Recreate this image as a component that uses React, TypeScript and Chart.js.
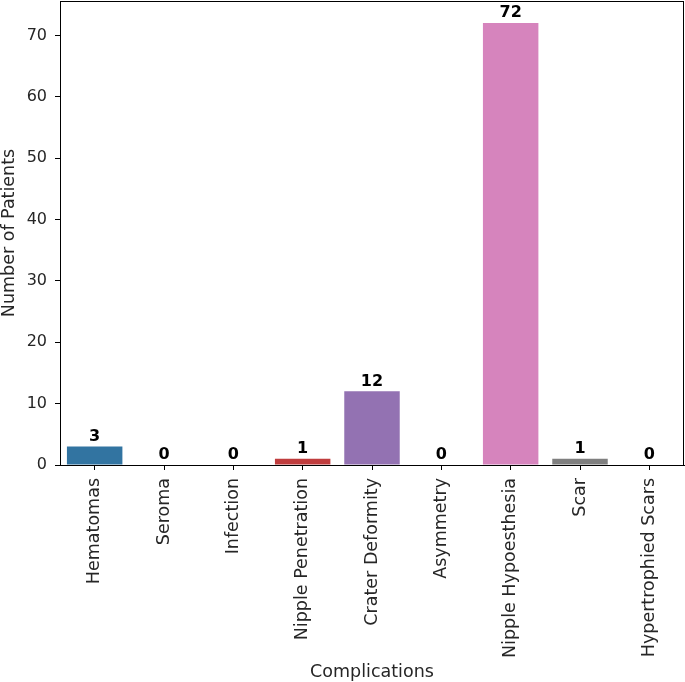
import React, { useEffect, useRef } from "react";
import { Chart, registerables } from "chart.js";

Chart.register(...registerables);

const categories = [
  "Hematomas",
  "Seroma",
  "Infection",
  "Nipple Penetration",
  "Crater Deformity",
  "Asymmetry",
  "Nipple Hypoesthesia",
  "Scar",
  "Hypertrophied Scars",
];
const patientCounts = [3, 0, 0, 1, 12, 0, 72, 1, 0];
const barColors = [
  "#3274a1",
  "#e1812c",
  "#3a923a",
  "#c03d3e",
  "#9372b2",
  "#845b53",
  "#d684bd",
  "#7f7f7f",
  "#a9aa35",
];
const yTicks = [0, 10, 20, 30, 40, 50, 60, 70];
const xTitle = "Complications";
const yTitle = "Number of Patients";

const FONT = "'DejaVu Sans', sans-serif";
const TEXT = "#262626";

export default function App() {
  const ref = useRef<HTMLCanvasElement | null>(null);

  useEffect(() => {
    const canvas = ref.current;
    if (!canvas) return;

    const overlay = {
      id: "overlay",
      afterDatasetsDraw(chart: any) {
        const ctx = chart.ctx;
        const meta = chart.getDatasetMeta(0);
        ctx.save();
        ctx.fillStyle = "#000";
        ctx.font = `bold 16px ${FONT}`;
        ctx.textAlign = "center";
        ctx.textBaseline = "bottom";
        meta.data.forEach((bar: any, i: number) => {
          ctx.fillText(String(patientCounts[i]), bar.x, bar.y - 2);
        });
        ctx.restore();
      },
      afterDraw(chart: any) {
        const ctx = chart.ctx;
        const a = chart.chartArea;
        ctx.save();
        ctx.strokeStyle = "#000";
        ctx.lineWidth = 1;
        ctx.strokeRect(a.left + 0.5, a.top + 0.5, a.right - a.left - 1, a.bottom - a.top);
        ctx.fillStyle = TEXT;
        ctx.font = `17.5px ${FONT}`;
        ctx.textAlign = "center";
        ctx.textBaseline = "middle";
        ctx.fillText(xTitle, (a.left + a.right) / 2, 672);
        ctx.translate(9, (a.top + a.bottom) / 2);
        ctx.rotate(-Math.PI / 2);
        ctx.fillText(yTitle, 0, 0);
        ctx.restore();
      },
    };

    const chart = new Chart(canvas, {
      type: "bar",
      data: {
        labels: categories,
        datasets: [
          {
            data: patientCounts,
            backgroundColor: barColors,
            borderWidth: 0,
            barPercentage: 0.8,
            categoryPercentage: 1,
          },
        ],
      },
      options: {
        animation: false,
        responsive: false,
        maintainAspectRatio: false,
        layout: { padding: { top: 1, right: 1, left: 0, bottom: 0 } },
        plugins: {
          legend: { display: false },
          tooltip: { enabled: false },
        },
        scales: {
          x: {
            offset: true,
            grid: {
              offset: false,
              drawOnChartArea: false,
              drawTicks: true,
              tickLength: 5,
              color: "#000",
            },
            border: { color: "#000" },
            ticks: {
              autoSkip: false,
              minRotation: 90,
              maxRotation: 90,
              padding: 8,
              color: TEXT,
              font: { family: FONT, size: 17.5 },
            },
            afterFit(scale: any) {
              scale.height = 217;
              scale.paddingLeft = 0;
              scale.paddingRight = 0;
            },
          },
          y: {
            min: 0,
            max: 75.6,
            afterBuildTicks(scale: any) {
              scale.ticks = yTicks.map((v) => ({ value: v }));
            },
            grid: {
              drawOnChartArea: false,
              drawTicks: true,
              tickLength: 5,
              color: "#000",
            },
            border: { color: "#000" },
            ticks: {
              padding: 8,
              color: TEXT,
              font: { family: FONT, size: 16 },
            },
            afterFit(scale: any) {
              scale.width = 60;
              scale.paddingTop = 0;
              scale.paddingBottom = 0;
            },
          },
        },
      },
      plugins: [overlay],
    });

    return () => chart.destroy();
  }, []);

  return (
    <div style={{ position: "fixed", left: 0, top: 0, width: 685, height: 682, background: "#fff" }}>
      <canvas ref={ref} width={685} height={682} style={{ width: 685, height: 682, display: "block" }} />
    </div>
  );
}
